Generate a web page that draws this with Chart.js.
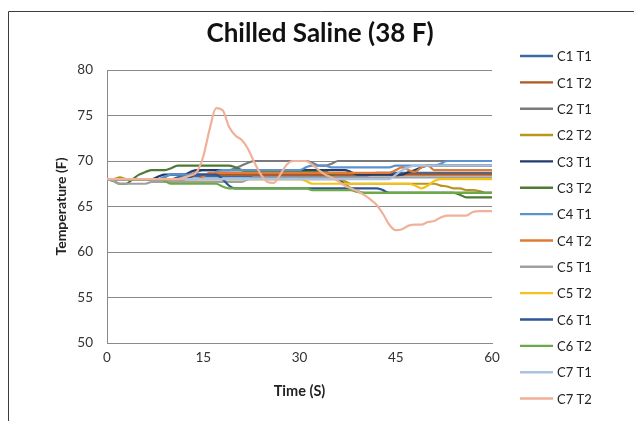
<!DOCTYPE html>
<html>
<head>
<meta charset="utf-8">
<script src="https://cdn.jsdelivr.net/npm/chart.js@4"></script>
<style>
  html, body { margin: 0; padding: 0; background: #ffffff; }
  #wrap { width: 634px; height: 421px; position: relative; }
</style>
</head>
<body>
<div id="wrap"><canvas id="c" width="634" height="421"></canvas></div>
<script>
// ---- data ----
const chartTitle = "Chilled Saline (38 F)";
const xTitle = "Time (S)";
const yTitle = "Temperature (F)";
const times = [0,1,2,3,4,5,6,7,8,9,10,11,12,13,14,15,16,17,18,19,20,21,22,23,24,25,26,27,28,29,30,31,32,33,34,35,36,37,38,39,40,41,42,43,44,45,46,47,48,49,50,51,52,53,54,55,56,57,58,59,60];
const seriesNames = ["C1 T1","C1 T2","C2 T1","C2 T2","C3 T1","C3 T2","C4 T1","C4 T2","C5 T1","C5 T2","C6 T1","C6 T2","C7 T1","C7 T2"];
const seriesColors = ["#3A6A9F","#B0561F","#7A7A7A","#B8961B","#1F3A6B","#4E7A34","#5B93CF","#E07B35","#A0A0A0","#F5C21A","#2F5597","#6BAA44","#A8C2E0","#F0B09A"];

const c1t1 = [68,68,68,68,68,68,68,68,68,68, 68,68.2,68.3,68.3,68.3,68.3,68.3,68.3,68.3,68.3, 68.3,68.3,68.3,68.3,68.3,68.3,68.3,68.3,68.3,68.3, 68.3,68.3,68.3,68.3,68.3,68.3,68.3,68.3,68.3,68.3, 68.3,68.5,68.7,68.7,68.7,68.7,68.7,68.7,68.7,68.7, 68.7,68.7,68.7,68.7,68.7,68.7,68.7,68.7,68.7,68.7, 68.7];
const c1t2 = [68,68,68,68,68,68,68,68,68,68, 68,68,68,68.2,68.5,68.5,68.5,68.5,68.5,68.5, 68.5,68.5,68.5,68.5,68.5,68.5,68.5,68.5,68.5,68.5, 68.5,68.5,68.5,68.5,68.5,68.5,68.5,68.5,68.5,68.5, 68.5,68.5,68.5,68.5,68.5,68.3,68.5,68.5,68.5,68.5, 68.5,68.5,68.5,68.5,68.5,68.5,68.5,68.5,68.5,68.5, 68.5];
const c2t1 = [68,68,68,68,68,68,68,68,68,68.2, 68.5,68.5,68.5,68.5,68.8,69,69,69,69,69, 69.2,69.5,69.8,70,70,70,70,70,70,70, 70,70,69.8,69.5,69.5,69.7,70,70,70,70, 70,70,70,70,70,70,70,70,70,70, 70,70,70,70,70,70,70,70,70,70, 70];
const c2t2 = [68,68,68.2,68,68,68,68,68,68,68, 68,68,68,68,68,68,68,68,68,68, 68,68,68,68,68,68,68,68,68,68, 68,68,68,68,68,68,68,67.8,67.5,67.5, 67.5,67.5,67.5,67.5,67.5,67.5,67.5,67.5,67.5,67.5, 67.5,67.5,67.3,67.2,67,67,66.8,66.8,66.7,66.5, 66.5];
const c3t1 = [68,68,68,68,68,68,68,68,68.3,68.5, 68.5,68.5,68.5,68.8,69,69,69,69,69,69, 69,69,69,69,69,69,69,69,69,69, 69,69,69,69,69,69,69,69,68.8,68.5, 68.5,68.5,68.5,68.5,68.5,68.5,68.5,68.8,69,69.3, 69.5,69.5,69.5,69.5,69.5,69.5,69.5,69.5,69.5,69.5, 69.5];
const c3t2 = [68,67.8,67.5,67.5,68,68.5,68.8,69,69,69, 69.2,69.5,69.5,69.5,69.5,69.5,69.5,69.5,69.5,69.5, 69.3,69,68.8,68.8,68.8,68.8,68.8,68.8,68.8,68.8, 68.8,68.8,68.8,68.8,68.8,68.5,68,67.5,67,66.7, 66.5,66.5,66.5,66.5,66.5,66.5,66.5,66.5,66.5,66.5, 66.5,66.5,66.5,66.5,66.5,66.3,66,66,66,66, 66];
const c4t1 = [68,68,68,68,68,68,68,68,68,68.3, 68.5,68.5,68.5,68.5,68.5,68.5,68.5,68.8,69,69, 69,69,69,69,69,69,69,69,69,69, 69,69.3,69.5,69.5,69.5,69.3,69.3,69.3,69.3,69.3, 69.3,69.3,69.3,69.3,69.3,69.5,69.5,69.5,69.5,69.5, 69.5,69.5,69.7,70,70,70,70,70,70,70, 70];
const c4t2 = [68,68,68,68,68,68,68,68,68,68, 68,68,68,68,68,68.3,68.7,68.7,68.7,68.7, 68.7,68.7,68.7,68.7,68.7,68.7,68.7,68.7,68.7,68.7, 68.7,68.7,68.7,68.7,68.7,68.7,68.7,68.7,68.7,68.7, 68.7,68.7,68.7,68.7,68.7,69,69.3,69,68.8,69.3, 69.5,69,69,69,69,69,69,69,69,69, 69];
const c5t1 = [68,67.8,67.5,67.5,67.5,67.5,67.5,67.7,67.7,67.7, 67.7,67.7,67.7,67.7,67.7,67.7,67.7,67.7,67.7,67.7, 67.7,67.7,68,68.2,68.2,68.2,68.2,68.2,68.2,68.2, 68.2,68.2,68.2,68.2,68.2,68.2,68.2,68.2,68.2,68.2, 68.2,68.2,68.2,68.2,68.2,68.2,68.2,68.2,68.2,68.2, 68.2,68.2,68.2,68.2,68.2,68.2,68.2,68.2,68.2,68.2, 68.2];
const c5t2 = [68,68,68,68,68,68,68,68,68,68, 68,68,68,68,68,68,68,68,68,68, 68,68,68,68,68,68,68,68,68,68, 68,67.8,67.5,67.5,67.5,67.5,67.5,67.5,67.5,67.5, 67.5,67.5,67.5,67.5,67.5,67.5,67.5,67.5,67.3,67, 67.3,67.8,68,68,68,68,68,68,68,68, 68];
const c6t1 = [68,68,68,68,68,68,68,68,68,68, 68,68,68,68.3,68.5,68.5,68.5,68.5,68,67.3, 67,67,67,67,67,67,67,67,67,67, 67,67,67,67,67,67,67,67,67,67, 67,67,67,66.8,66.5,66.5,66.5,66.5,66.5,66.5, 66.5,66.5,66.5,66.5,66.5,66.5,66.5,66.5,66.5,66.5, 66.5];
const c6t2 = [68,68,68,68,68,68,68,68,68,67.8, 67.5,67.5,67.5,67.5,67.5,67.5,67.5,67.5,67.2,67, 67,67,67,67,67,67,67,67,67,67, 67,67,66.8,66.8,66.8,66.8,66.8,66.8,66.8,66.6, 66.5,66.5,66.5,66.5,66.5,66.5,66.5,66.5,66.5,66.5, 66.5,66.5,66.5,66.5,66.5,66.5,66.5,66.5,66.5,66.5, 66.5];
const c7t1 = [68,68,68,68,68,68,68,68,68,68, 68,68,68,68,68,68,68,68,68,68, 68,68,68,68,68,68,68,68,68,68, 68,68,68,68,68,68,68,68,68,68, 68,68,68,68,68,68.5,69,69.3,69.5,69.5, 69.5,69.5,69.5,69.5,69.5,69.5,69.5,69.5,69.5,69.5, 69.5];
const c7t2 = [68,68,68,68,68,68,68,68,68,68, 68,68,68.2,68.4,68.8,70.5,73.5,75.8,75.6,73.8, 72.8,72.3,71.3,69.8,68.5,67.7,67.6,68.5,69.6,70, 70,70,69.6,69,68.5,68.2,67.8,67.3,67,66.7, 66.3,65.8,65.2,64.2,63,62.4,62.5,62.9,63,63, 63.3,63.4,63.8,64,64,64,64,64.4,64.5,64.5, 64.5];
const seriesValues = [c1t1,c1t2,c2t1,c2t2,c3t1,c3t2,c4t1,c4t2,c5t1,c5t2,c6t1,c6t2,c7t1,c7t2];

const yMin = 50, yMax = 80, yStep = 5;
const xMin = 0, xMax = 60, xStep = 15;

// ---- chart ----
const FONT = "Lato, 'Open Sans', sans-serif";

const datasets = seriesNames.map((name, i) => ({
  label: name,
  data: seriesValues[i].map((v, k) => ({ x: times[k], y: v })),
  borderColor: seriesColors[i],
  backgroundColor: seriesColors[i],
  borderWidth: 2.2,
  pointRadius: 0,
  pointHoverRadius: 0,
  cubicInterpolationMode: 'monotone',
  fill: false,
  order: seriesNames.length - i
}));

const frameTitleLegend = {
  id: 'frameTitleLegend',
  afterDraw(chart) {
    const ctx = chart.ctx;
    ctx.save();
    // outer frame (top and left edges)
    ctx.strokeStyle = '#3c3c3c';
    ctx.lineWidth = 1;
    ctx.beginPath();
    ctx.moveTo(8.5, 421);
    ctx.lineTo(8.5, 11.5);
    ctx.lineTo(634, 11.5);
    ctx.stroke();
    // title
    ctx.fillStyle = '#111';
    ctx.font = "bold 26px " + FONT;
    ctx.textAlign = 'center';
    ctx.textBaseline = 'middle';
    ctx.fillText(chartTitle, 320, 34);
    // legend
    ctx.font = "13px " + FONT;
    ctx.textBaseline = 'middle';
    ctx.textAlign = 'left';
    chart.data.datasets.forEach((ds, i) => {
      const y = 56 + i * 26.35;
      ctx.strokeStyle = ds.borderColor;
      ctx.lineWidth = 2.4;
      ctx.beginPath();
      ctx.moveTo(520, y);
      ctx.lineTo(553, y);
      ctx.stroke();
      ctx.fillStyle = '#222';
      ctx.fillText(ds.label, 557, y + 1);
    });
    ctx.restore();
  }
};

new Chart(document.getElementById('c'), {
  type: 'line',
  data: { datasets },
  options: {
    responsive: false,
    animation: false,
    events: [],
    layout: { padding: { left: 0, right: 142, top: 70, bottom: 0 } },
    plugins: {
      legend: { display: false },
      tooltip: { enabled: false },
      title: { display: false }
    },
    scales: {
      x: {
        type: 'linear',
        min: xMin, max: xMax,
        ticks: { stepSize: xStep, color: '#333', font: { family: FONT, size: 13.5 }, padding: 7, maxRotation: 0 },
        grid: { display: false, drawTicks: false },
        border: { display: true, color: '#8a8a8a', width: 1 },
        title: { display: true, text: xTitle, color: '#222', font: { family: FONT, size: 14.5, weight: 'bold', lineHeight: 1.2 }, padding: { top: 0, bottom: 21 } },
        afterFit(s) { s.height = 78; }
      },
      y: {
        min: yMin, max: yMax,
        ticks: { stepSize: yStep, color: '#333', font: { family: FONT, size: 13.5 }, padding: 14 },
        grid: { color: '#8a8a8a', lineWidth: 1, drawTicks: false },
        border: { display: true, color: '#8a8a8a', width: 1 },
        title: { display: true, text: yTitle, color: '#222', font: { family: FONT, size: 14, weight: 'bold', lineHeight: 1.2 }, padding: { top: 53, bottom: 0 } },
        afterFit(s) { s.width = 107; }
      }
    }
  },
  plugins: [frameTitleLegend]
});
</script>
</body>
</html>
